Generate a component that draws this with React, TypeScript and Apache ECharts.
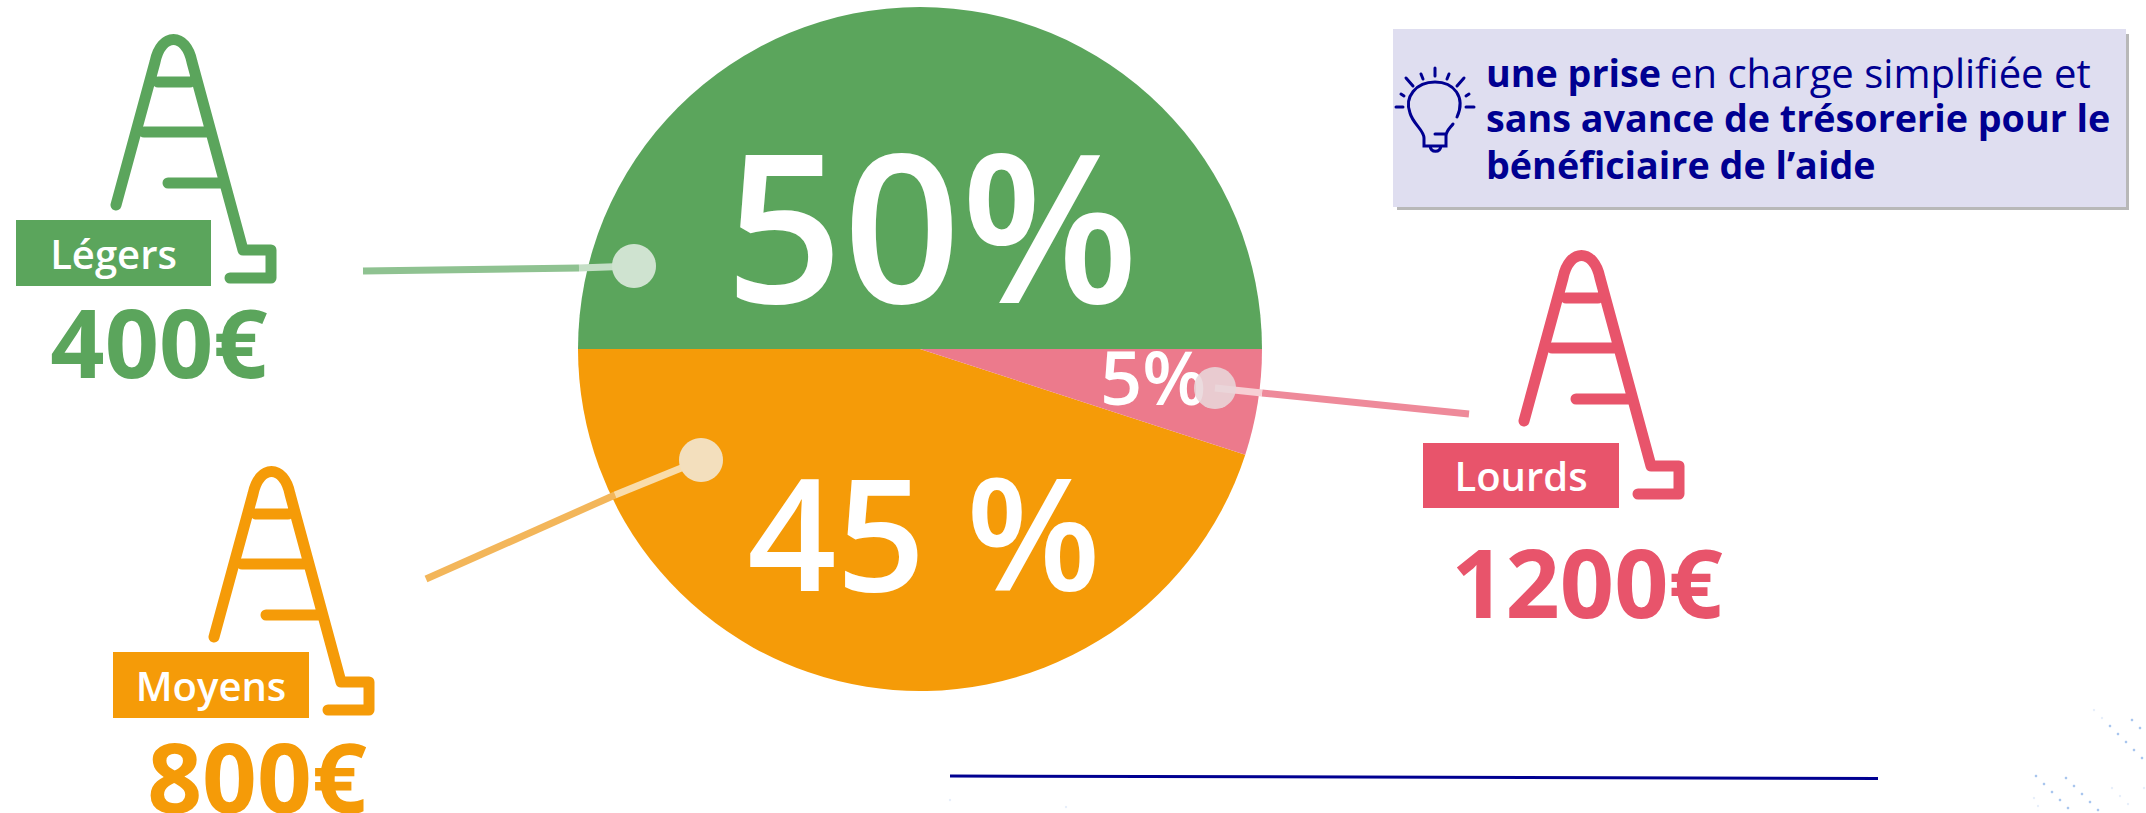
import React, { useEffect, useRef } from "react";
import * as echarts from "echarts";

const categories = ["Légers", "Moyens", "Lourds"];
const shares = [50, 45, 5];
const shareLabels = ["50%", "45 %", "5%"];
const amounts = ["400€", "800€", "1200€"];
const colors = ["#5ba55c", "#f59b08", "#e8546b"];
const sliceColors = ["#5ba55c", "#f59b08", "#ec7a8c"];
const noteBold1 = "une prise";
const noteRegular1 = "en charge simplifiée et";
const noteLine2 = "sans avance de trésorerie pour le";
const noteLine3 = "bénéficiaire de l’aide";

const ladderD =
  "M116 205 L155 62 C161 32 186 32 192 62 L243 250 L271 250 L271 278 L230 278 M158 82 H190 M144 132 H205 M168 183 H220";
const bulbD =
  "M1457 117 C1466 97 1454 82 1435 82 C1416 82 1404 97 1410 113 C1413 124 1424 130 1424 138 V146 H1446 V136 C1446 131 1450 128 1453 124 M1435 134 H1446 M1430 146 C1431 153 1440 153 1441 146 M1435 68 V76 M1421 74 L1423 79 M1449 74 L1447 79 M1406 78 L1413 86 M1464 78 L1457 86 M1401 94 L1404 96 M1469 94 L1466 96 M1396 107 H1403 M1466 107 H1474";

echarts.graphic.registerShape("ladder", echarts.graphic.extendPath(ladderD, {}));
echarts.graphic.registerShape("bulb", echarts.graphic.extendPath(bulbD, {}));

const FONT = "'Open Sans', sans-serif";

const decoDots = [
  [2036, 776], [2044, 784], [2052, 792], [2060, 800], [2068, 808],
  [2066, 778], [2074, 786], [2082, 794], [2090, 802], [2098, 810],
  [2110, 726], [2118, 734], [2126, 742], [2134, 750], [2142, 758],
  [2132, 720], [2140, 728],
];
const fadedDots = [
  [2102, 718], [2094, 710], [2144, 788], [2112, 788], [2120, 796], [2128, 804],
  [2034, 798], [2038, 806], [950, 800], [1066, 807],
];

function ladderBlock(i: number, dx: number, dy: number, rect: number[], amountX: number, amountY: number, amountSize: number) {
  return [
    { type: "ladder", x: dx, y: dy, z: 5, style: { fill: "none", stroke: colors[i], lineWidth: 11, lineCap: "round", lineJoin: "round" } },
    { type: "rect", z: 6, shape: { x: rect[0], y: rect[1], width: rect[2], height: rect[3] }, style: { fill: colors[i] } },
    { type: "text", z: 7, x: rect[0] + rect[2] / 2, y: rect[1] + rect[3] / 2, style: { text: categories[i], fill: "#fff", font: `600 40px ${FONT}`, align: "center", verticalAlign: "middle" } },
    { type: "text", z: 7, x: amountX, y: amountY, style: { text: amounts[i], fill: colors[i], font: `700 ${amountSize}px ${FONT}`, lineHeight: 72, align: "center", verticalAlign: "middle" } },
  ];
}

function connector(a: number[], b: number[], c: number[], outer: string, inner: string, dot: string, r: number, dotOpacity = 1) {
  return [
    { type: "line", z: 8, shape: { x1: a[0], y1: a[1], x2: b[0], y2: b[1] }, style: { stroke: outer, lineWidth: 7 } },
    { type: "line", z: 8, shape: { x1: b[0], y1: b[1], x2: c[0], y2: c[1] }, style: { stroke: inner, lineWidth: 7 } },
    { type: "circle", z: 9, shape: { cx: c[0], cy: c[1], r }, style: { fill: dot, opacity: dotOpacity } },
  ];
}

const labelPos = [
  { x: 932, y: 223, size: 206 },
  { x: 924, y: 530, size: 156 },
  { x: 1153, y: 376, size: 74 },
];

export default function App() {
  const ref = useRef<HTMLDivElement>(null);
  useEffect(() => {
    document.body.style.margin = "0";
    const chart = echarts.init(ref.current!, null, { renderer: "svg" });
    chart.setOption({
      animation: false,
      backgroundColor: "#ffffff",
      series: [
        {
          type: "pie",
          silent: true,
          center: [920, 349],
          radius: [0, 342],
          startAngle: 0,
          clockwise: false,
          labelLine: { show: false },
          labelLayout: (p: any) => ({ x: labelPos[p.dataIndex].x, y: labelPos[p.dataIndex].y, align: "center", verticalAlign: "middle" }),
          data: shares.map((v, i) => ({
            value: v,
            name: categories[i],
            itemStyle: { color: sliceColors[i] },
            label: {
              show: true,
              position: "inside",
              formatter: shareLabels[i],
              color: "#fff",
              fontFamily: "'Open Sans', sans-serif",
              fontWeight: 600,
              fontSize: labelPos[i].size,
            },
          })),
        },
      ],
      graphic: {
        elements: [
          ...ladderBlock(0, 0, 0, [16, 220, 195, 66], 159, 341, 95),
          ...ladderBlock(1, 98, 432, [113, 652, 196, 66], 257, 775, 96),
          ...ladderBlock(2, 1408, 216, [1423, 443, 196, 65], 1587, 581, 95),
          ...connector([363, 271], [579, 268], [634, 266], "#8fc291", "#c5dfc6", "#cfe3d0", 22),
          ...connector([426, 579], [615, 495], [701, 460], "#f3b65a", "#f9dcaa", "#f3dfbd", 22),
          ...connector([1469, 414], [1262, 393], [1215, 388], "#ee8a9a", "#f7cfd4", "#e8d6d9", 21, 0.88),
          { type: "rect", z: 10, shape: { x: 1397, y: 34, width: 732, height: 176 }, style: { fill: "#b8b8b8" } },
          { type: "rect", z: 11, shape: { x: 1393, y: 29, width: 733, height: 178 }, style: { fill: "#dfdef0" } },
          { type: "bulb", z: 12, style: { fill: "none", stroke: "#000091", lineWidth: 3, lineCap: "round" } },
          { type: "text", z: 12, x: 1486, y: 72, style: { text: noteBold1, fill: "#000091", font: `700 37.7px ${FONT}`, verticalAlign: "middle" } },
          { type: "text", z: 12, x: 1670, y: 72, style: { text: noteRegular1, fill: "#000091", font: `400 40px ${FONT}`, verticalAlign: "middle" } },
          { type: "text", z: 12, x: 1486, y: 117, style: { text: noteLine2, fill: "#000091", font: `700 37.7px ${FONT}`, verticalAlign: "middle" } },
          { type: "text", z: 12, x: 1486, y: 164, style: { text: noteLine3, fill: "#000091", font: `700 37.7px ${FONT}`, verticalAlign: "middle" } },
          { type: "polyline", z: 5, shape: { points: [[950, 776], [1878, 778.5]] }, style: { stroke: "#000091", lineWidth: 3, fill: "none" } },
          ...decoDots.map(([cx, cy]) => ({ type: "circle", z: 1, shape: { cx, cy, r: 1.3 }, style: { fill: "#a9c6ee" } })),
          ...fadedDots.map(([cx, cy]) => ({ type: "circle", z: 1, shape: { cx, cy, r: 1.2 }, style: { fill: "#e6eefa" } })),
        ],
      },
    });
    return () => chart.dispose();
  }, []);
  return <div ref={ref} style={{ width: 2146, height: 813 }} />;
}
